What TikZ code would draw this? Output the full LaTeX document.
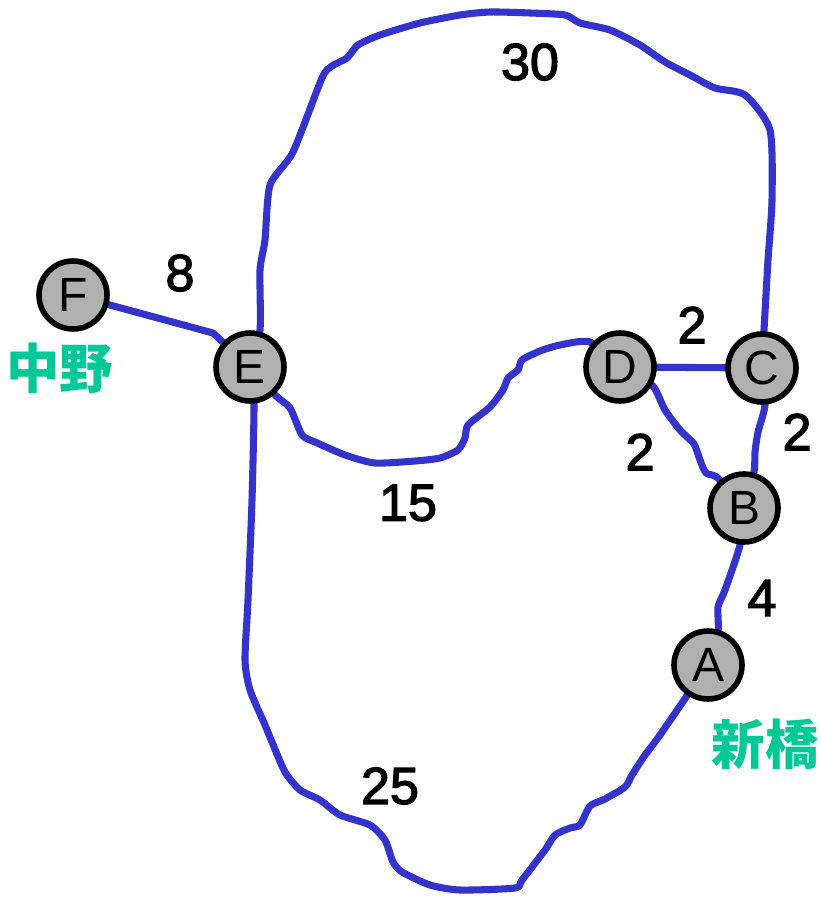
\documentclass[tikz,border=0pt]{standalone}
\usepackage{fontspec}
\setmainfont{Liberation Sans}
\newfontfamily\numfont[FakeBold=2.5]{Liberation Sans}
\newfontfamily\cjk{Noto Sans CJK JP}
\usetikzlibrary{backgrounds}
\definecolor{edgeblue}{RGB}{52,52,204}
\definecolor{nodegray}{RGB}{176,176,176}
\definecolor{stgreen}{RGB}{0,200,150}
\tikzset{
  station/.style={circle,draw=black,line width=4.2pt,fill=nodegray,minimum size=51pt,inner sep=0pt,font=\fontsize{36}{36}\selectfont},
  edgeline/.style={draw=edgeblue,line width=5.3pt,line cap=round,line join=round},
  weight/.style={font=\numfont\fontsize{39}{39}\selectfont,text=black},
  stname/.style={font=\cjk\bfseries\fontsize{40}{40}\selectfont,text=stgreen},
}
\begin{document}
\begin{tikzpicture}[x=0.75pt,y=-0.75pt]
\useasboundingbox (0,0) rectangle (820,898);
\node[station] (F) at (73,295) {F};
\node[station] (E) at (250,367) {E};
\node[station] (D) at (620,367) {D};
\node[station] (C) at (762,368) {C};
\node[station] (B) at (744,508) {B};
\node[station] (A) at (708,665) {A};
\begin{pgfonlayer}{background}
% F - E
\draw[edgeline] (F.center) -- (213,333) -- (E.center);
% E - C (30)
\draw[edgeline] plot[smooth,tension=0.4] coordinates {(E.center) (260,330) (260,270) (265,240) (270,185) (293,152) (322,78) (332,66) (347,58) (358,45) (380,35) (420,23) (460,15) (490,12) (530,13) (565,15) (580,23) (610,30) (640,45) (665,62) (690,75) (715,88) (745,95) (770,130) (772,200) (768,260) (764,330) (C.center)};
% E - D (15)
\draw[edgeline] plot[smooth,tension=0.4] coordinates {(E.center) (275,395) (290,408) (302,435) (315,442) (345,455) (375,463) (415,461) (440,458) (458,450) (465,438) (468,425) (490,407) (503,390) (508,378) (518,370) (522,360) (540,351) (560,345) (590,342) (D.center)};
% D - C
\draw[edgeline] (D.center) -- (C.center);
% D - B
\draw[edgeline] plot[smooth,tension=0.4] coordinates {(D.center) (652,385) (665,410) (680,430) (694,444) (700,460) (706,473) (718,478) (B.center)};
% C - B
\draw[edgeline] plot[smooth,tension=0.4] coordinates {(C.center) (765,405) (758,432) (755,452) (754,472) (B.center)};
% B - A
\draw[edgeline] plot[smooth,tension=0.4] coordinates {(B.center) (740,545) (725,590) (718,607) (718,632) (A.center)};
% E - A (25)
\draw[edgeline] plot[smooth,tension=0.4] coordinates {(E.center) (254,400) (252,500) (248,600) (245,660) (250,690) (265,725) (272,742) (285,772) (300,790) (320,800) (340,815) (370,825) (385,840) (393,862) (402,872) (430,885) (460,890) (515,888) (522,880) (545,850) (555,835) (570,828) (580,825) (590,806) (605,799) (625,787) (632,775) (645,755) (660,735) (A.center)};
\end{pgfonlayer}
\node[weight] (w30) at (530,62) {30};
\node[weight] (w8) at (180,273) {8};
\node[weight] (w2a) at (692,325) {2};
\node[weight] (w2b) at (640,452) {2};
\node[weight] (w2c) at (797,432) {2};
\node[weight] (w15) at (408,503) {15};
\node[weight] (w4) at (762,598) {4};
\node[weight] (w25) at (390,786) {25};
\node[stname] (nakano) at (60,368) {中野};
\node[stname] (shinbashi) at (765,744) {新橋};
\end{tikzpicture}
\end{document}
